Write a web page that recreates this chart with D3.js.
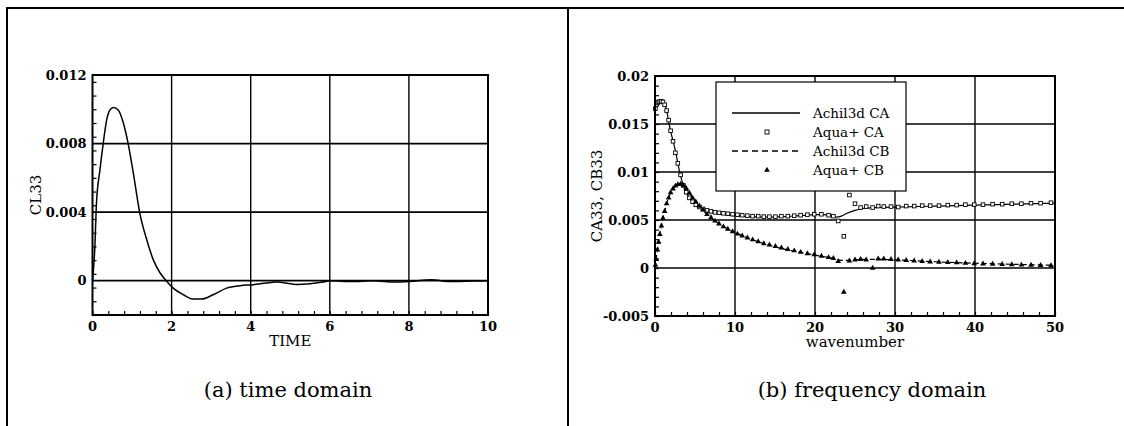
<!DOCTYPE html>
<html>
<head>
<meta charset="utf-8">
<script src="https://cdn.jsdelivr.net/npm/d3@7"></script>
<style>
body { margin: 0; background: #fff; }
text { font-family: "DejaVu Serif", serif; fill: #000; }
</style>
</head>
<body>
<div id="divbody"></div>
<script>
// (a) time domain: CL33 against TIME
var timeT  = [0, 0.06, 0.1, 0.19, 0.27, 0.36, 0.44, 0.53, 0.65, 0.78, 0.91, 1.03, 1.2, 1.37, 1.54, 1.71, 1.88, 2.04, 2.3, 2.55, 2.76, 3.05, 3.39, 3.73, 4.07, 4.4, 4.65, 5.19, 5.83, 6.0, 6.55, 7.1, 7.64, 8.1, 8.55, 9.09, 9.6, 10];
var timeCL = [0, 0.0020, 0.0045, 0.0065, 0.0080, 0.0094, 0.00996, 0.0101, 0.00996, 0.0092, 0.0079, 0.0063, 0.0039, 0.0024, 0.0012, 0.00045, -0.00004, -0.00043, -0.00082, -0.00107, -0.00107, -0.00082, -0.00043, -0.00029, -0.00023, -0.00013, -0.00008, -0.00022, -0.00008, 0, -0.00005, 0, -0.00008, -0.00003, 0.00005, -0.00005, -0.00002, 0];
var timeXTicks = [0, 2, 4, 6, 8, 10];
var timeYTicks = [0, 0.004, 0.008, 0.012];
var timeYLabels = ["0", "0.004", "0.008", "0.012"];

// (b) frequency domain: Achil3d lines (values in units of 0.001)
var achK  = [0, 0.25, 0.5, 0.75, 1, 1.25, 1.5, 1.75, 2, 2.5, 3, 3.5, 4, 4.5, 5, 5.5, 6, 7, 8, 9, 10, 12, 14, 16, 18, 20, 21, 22, 22.6, 23.3, 24, 25, 26, 28, 30, 35, 40, 45, 50];
var achCA = [16.5, 17.1, 17.3, 17.35, 17.3, 17.0, 16.2, 15.1, 14.1, 12.4, 10.3, 8.7, 7.7, 7.1, 6.6, 6.3, 6.1, 5.8, 5.65, 5.55, 5.45, 5.35, 5.3, 5.35, 5.45, 5.55, 5.55, 5.45, 5.3, 5.4, 5.7, 6.0, 6.2, 6.3, 6.35, 6.45, 6.55, 6.65, 6.75];
var achCB = [0, 1.6, 3.0, 4.2, 5.2, 6.0, 6.8, 7.4, 7.9, 8.5, 8.75, 8.65, 8.2, 7.6, 7.0, 6.5, 6.0, 5.2, 4.6, 4.1, 3.7, 3.0, 2.45, 2.0, 1.65, 1.35, 1.2, 1.05, 0.9, 0.8, 0.8, 0.85, 0.9, 0.9, 0.85, 0.65, 0.5, 0.38, 0.28];

// (b) Aqua+ markers (values in units of 0.001)
var aquaK  = [0.05, 0.15, 0.3, 0.45, 0.6, 0.8, 1.0, 1.2, 1.45, 1.7, 1.95, 2.25, 2.55, 2.85, 3.2, 3.55, 3.9, 4.3, 4.7, 5.1, 5.55, 6.0, 6.5, 7.0, 7.5, 8.0, 8.55, 9.1, 9.7, 10.3, 10.9, 11.55, 12.2, 12.9, 13.6, 14.3, 15.05, 15.8, 16.6, 17.4, 18.2, 19.05, 19.9, 20.8, 21.7, 22.3, 22.9, 23.6, 24.3, 25.0, 25.7, 26.4, 27.2, 27.9, 28.6, 29.5, 30.4, 31.4, 32.4, 33.4, 34.4, 35.5, 36.6, 37.7, 38.8, 39.9, 41.0, 42.2, 43.4, 44.6, 45.8, 47.0, 48.2, 49.5];
var aquaCA = [16.6, 17.0, 17.2, 17.3, 17.35, 17.35, 17.3, 17.0, 16.4, 15.4, 14.3, 13.2, 12.0, 10.9, 9.7, 8.6, 7.9, 7.3, 6.9, 6.6, 6.35, 6.15, 6.0, 5.9, 5.8, 5.75, 5.7, 5.65, 5.6, 5.55, 5.5, 5.45, 5.4, 5.4, 5.35, 5.35, 5.35, 5.4, 5.4, 5.45, 5.5, 5.55, 5.6, 5.6, 5.5, 5.4, 4.9, 3.3, 7.6, 6.7, 6.3, 6.4, 6.3, 6.45, 6.4, 6.4, 6.35, 6.45, 6.45, 6.5, 6.5, 6.5, 6.55, 6.55, 6.6, 6.6, 6.6, 6.65, 6.65, 6.7, 6.7, 6.75, 6.75, 6.8];
var aquaCB = [0.3, 0.9, 1.9, 2.7, 3.5, 4.4, 5.2, 5.9, 6.7, 7.3, 7.85, 8.25, 8.55, 8.7, 8.75, 8.6, 8.3, 7.8, 7.3, 6.9, 6.45, 6.05, 5.6, 5.25, 4.9, 4.6, 4.3, 4.05, 3.8, 3.55, 3.35, 3.15, 2.95, 2.75, 2.55, 2.4, 2.25, 2.1, 1.95, 1.8, 1.65, 1.5, 1.4, 1.25, 1.1, 1.0, 0.7, -2.5, 0.75, 0.85, 0.9, 0.85, 0.0, 0.95, 0.95, 0.9, 0.85, 0.8, 0.75, 0.7, 0.65, 0.62, 0.58, 0.55, 0.5, 0.47, 0.44, 0.41, 0.38, 0.35, 0.32, 0.3, 0.28, 0.26];
var freqXTicks = [0, 10, 20, 30, 40, 50];
var freqYTicks = [-0.005, 0, 0.005, 0.01, 0.015, 0.02];
var freqYLabels = ["-0.005", "0", "0.005", "0.01", "0.015", "0.02"];
var legendNames = ["Achil3d CA", "Aqua+ CA", "Achil3d CB", "Aqua+ CB"];

var width = 1124, height = 426;
var svg = d3.select("#divbody").append("svg")
  .attr("width", width)
  .attr("height", height);
svg.append("rect").attr("width", width).attr("height", height).attr("fill", "#fff");

// page frame
svg.append("path")
  .attr("d", "M7,426V8H1124M568,8V426")
  .attr("fill", "none").attr("stroke", "#000").attr("stroke-width", 2);

function panel(o) {
  var g = svg.append("g");
  var x = d3.scaleLinear().domain(o.xDomain).range([o.left, o.right]);
  var y = d3.scaleLinear().domain(o.yDomain).range([o.bottom, o.top]);

  // grid at major ticks
  g.append("g").selectAll("line").data(o.xTicks.slice(1, -1)).enter().append("line")
    .attr("x1", d => x(d)).attr("x2", d => x(d))
    .attr("y1", o.top).attr("y2", o.bottom)
    .attr("stroke", "#000").attr("stroke-width", 1.4);
  g.append("g").selectAll("line").data(o.yTicks.filter(d => d > o.yDomain[0] && d < o.yDomain[1])).enter().append("line")
    .attr("x1", o.left).attr("x2", o.right)
    .attr("y1", d => y(d)).attr("y2", d => y(d))
    .attr("stroke", "#000").attr("stroke-width", 1.7);

  // minor ticks pointing inward on left and bottom
  g.append("g").attr("transform", "translate(" + o.left + ",0)")
    .call(d3.axisRight(y).tickValues(d3.range(o.yDomain[0], o.yDomain[1] + 1e-9, o.yMinor)).tickSize(4).tickFormat(""))
    .call(a => a.select(".domain").remove())
    .selectAll("line").attr("stroke-width", 1.2);
  g.append("g").attr("transform", "translate(0," + o.bottom + ")")
    .call(d3.axisTop(x).tickValues(d3.range(o.xDomain[0], o.xDomain[1] + 1e-9, o.xMinor)).tickSize(4).tickFormat(""))
    .call(a => a.select(".domain").remove())
    .selectAll("line").attr("stroke-width", 1.2);

  // labels
  g.append("g").selectAll("text").data(o.yTicks).enter().append("text")
    .attr("x", o.left - 6).attr("y", d => y(d)).attr("dy", "0.36em")
    .attr("text-anchor", "end").attr("font-size", 13).attr("font-weight", "bold")
    .text((d, i) => o.yLabels[i]);
  g.append("g").selectAll("text").data(o.xTicks).enter().append("text")
    .attr("x", d => x(d)).attr("y", o.bottom + 16)
    .attr("text-anchor", "middle").attr("font-size", 13).attr("font-weight", "bold")
    .text(d => d);
  g.append("text").attr("x", (o.left + o.right) / 2).attr("y", o.bottom + 31)
    .attr("text-anchor", "middle").attr("font-size", 15).text(o.xTitle);
  g.append("text").attr("transform", "translate(" + o.yTitleX + "," + (o.top + o.bottom) / 2 + ") rotate(-90)")
    .attr("text-anchor", "middle").attr("dy", "0.35em").attr("font-size", 15).text(o.yTitle);
  g.append("text").attr("x", o.captionX).attr("y", 397)
    .attr("text-anchor", "middle").attr("font-size", 21).text(o.caption);

  return { g: g, x: x, y: y, o: o };
}

function frame(p) {
  p.g.append("rect")
    .attr("x", p.o.left).attr("y", p.o.top)
    .attr("width", p.o.right - p.o.left).attr("height", p.o.bottom - p.o.top)
    .attr("fill", "none").attr("stroke", "#000").attr("stroke-width", 2);
}

// ---- panel (a)
var pa = panel({
  left: 92.5, right: 488, top: 75, bottom: 315,
  xDomain: [0, 10], yDomain: [-0.002, 0.012],
  xTicks: timeXTicks, yTicks: timeYTicks, yLabels: timeYLabels,
  xMinor: 0.4, yMinor: 0.0008,
  xTitle: "TIME", yTitle: "CL33", yTitleX: 36,
  caption: "(a) time domain", captionX: 288
});
pa.g.append("path")
  .datum(d3.zip(timeT, timeCL))
  .attr("fill", "none").attr("stroke", "#000").attr("stroke-width", 1.5)
  .attr("d", d3.line().x(d => pa.x(d[0])).y(d => pa.y(d[1])).curve(d3.curveMonotoneX));
frame(pa);

// ---- panel (b)
var pb = panel({
  left: 655, right: 1055, top: 76, bottom: 316,
  xDomain: [0, 50], yDomain: [-0.005, 0.02],
  xTicks: freqXTicks, yTicks: freqYTicks, yLabels: freqYLabels,
  xMinor: 2, yMinor: 0.001,
  xTitle: "wavenumber", yTitle: "CA33, CB33", yTitleX: 597,
  caption: "(b) frequency domain", captionX: 872
});

var lineB = d3.line().x(d => pb.x(d[0])).y(d => pb.y(d[1] / 1000)).curve(d3.curveMonotoneX);
pb.g.append("path").datum(d3.zip(achK, achCA))
  .attr("fill", "none").attr("stroke", "#000").attr("stroke-width", 1.2).attr("d", lineB);
pb.g.append("path").datum(d3.zip(achK, achCB))
  .attr("fill", "none").attr("stroke", "#000").attr("stroke-width", 1.2)
  .attr("stroke-dasharray", "5,3").attr("d", lineB);

var tri = d3.symbol().type(d3.symbolTriangle).size(14);
pb.g.append("g").selectAll("rect").data(d3.zip(aquaK, aquaCA)).enter().append("rect")
  .attr("x", d => pb.x(d[0]) - 1.8).attr("y", d => pb.y(d[1] / 1000) - 1.8)
  .attr("width", 3.6).attr("height", 3.6)
  .attr("fill", "#fff").attr("stroke", "#000").attr("stroke-width", 0.9);
pb.g.append("g").selectAll("path").data(d3.zip(aquaK, aquaCB)).enter().append("path")
  .attr("transform", d => "translate(" + pb.x(d[0]) + "," + pb.y(d[1] / 1000) + ")")
  .attr("d", tri).attr("fill", "#000");

frame(pb);

// legend
var lg = pb.g.append("g");
lg.append("rect").attr("x", 716).attr("y", 82).attr("width", 190).attr("height", 109)
  .attr("fill", "#fff").attr("stroke", "#000").attr("stroke-width", 1.2);
var rows = lg.selectAll("g.row").data(legendNames).enter().append("g")
  .attr("transform", (d, i) => "translate(0," + (113 + i * 19) + ")");
rows.append("text").attr("x", 813).attr("dy", "0.35em").attr("font-size", 13.5).text(d => d);
rows.filter((d, i) => i === 0).append("line").attr("x1", 732).attr("x2", 800)
  .attr("stroke", "#000").attr("stroke-width", 1.3);
rows.filter((d, i) => i === 2).append("line").attr("x1", 732).attr("x2", 800)
  .attr("stroke", "#000").attr("stroke-width", 1.3).attr("stroke-dasharray", "6,4");
rows.filter((d, i) => i === 1).append("rect").attr("x", 765).attr("y", -2).attr("width", 4).attr("height", 4)
  .attr("fill", "#fff").attr("stroke", "#000").attr("stroke-width", 0.9);
rows.filter((d, i) => i === 3).append("path").attr("transform", "translate(767,0)").attr("d", tri).attr("fill", "#000");
</script>
</body>
</html>
